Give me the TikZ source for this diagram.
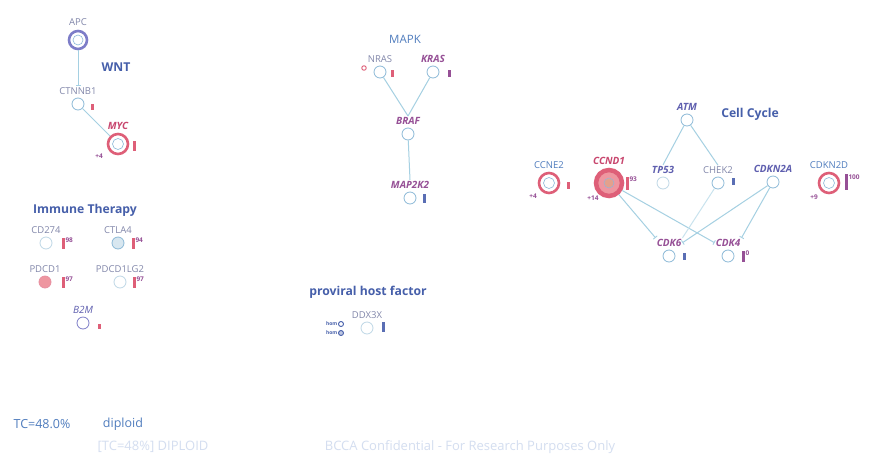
\documentclass[tikz,border=0pt]{standalone}
\usepackage{fontspec}
\setmainfont{Open Sans}
\usetikzlibrary{positioning,arrows.meta}

\definecolor{titleblue}{RGB}{70,95,170}
\definecolor{linec}{RGB}{165,208,226}
\definecolor{ringblue}{RGB}{140,185,215}
\definecolor{ringlt}{RGB}{190,215,230}
\definecolor{redr}{RGB}{222,95,120}
\definecolor{pinkf}{RGB}{238,150,160}
\definecolor{salmon}{RGB}{228,160,140}
\definecolor{purptxt}{RGB}{150,80,150}
\definecolor{redtxt}{RGB}{200,70,110}
\definecolor{greytxt}{RGB}{130,135,170}
\definecolor{bluetxt}{RGB}{80,125,190}
\definecolor{cyctxt}{RGB}{95,95,175}
\definecolor{apcc}{RGB}{125,125,200}
\definecolor{bluebar}{RGB}{90,110,180}
\definecolor{purpbar}{RGB}{150,80,150}
\definecolor{faint}{RGB}{212,222,240}

\tikzset{
  gene/.style={circle, draw=ringblue, line width=0.8pt, minimum size=12pt, inner sep=0pt},
  lbl/.style={font=\fontsize{9.5}{10}\selectfont, text=greytxt, inner sep=1pt},
  ital/.style={font=\fontsize{10}{11}\selectfont\bfseries\itshape, text=purptxt, inner sep=1pt},
  title/.style={font=\fontsize{12.2}{14}\selectfont\bfseries, text=titleblue},
  cnbar/.style={rectangle, fill=#1, inner sep=0pt, minimum width=3pt, minimum height=7pt},
  num/.style={font=\fontsize{6.5}{7}\selectfont\bfseries, text=purptxt, inner sep=0.6pt, anchor=north west},
  cn/.style={font=\fontsize{6.5}{7}\selectfont\bfseries, text=purptxt},
  link/.style={draw=linec, line width=1pt},
  inhib/.style={link, -{Bar[width=5pt, line width=0.9pt]}},
  homc/.style={circle, draw=titleblue, line width=0.9pt, minimum size=5pt, inner sep=0pt},
  homt/.style={font=\fontsize{5}{5}\selectfont\bfseries, text=titleblue, inner sep=0.5pt},
  bottom/.style={font=\fontsize{12.5}{14}\selectfont, text=bluetxt},
  faintt/.style={font=\fontsize{13}{15}\selectfont, text=faint},
}

\begin{document}
\begin{tikzpicture}[x=1pt, y=-1pt]
\fill[white] (0,0) rectangle (874,461);
\useasboundingbox (0,0) rectangle (874,461);

% WNT
\node[title] (wnt) at (116,67) {WNT};
\node[gene, draw=apcc, line width=2.6pt, minimum size=18pt] (apc) at (78,40) {};
\draw[ringblue, line width=0.6pt] (apc.center) circle (5pt);
\node[lbl, above=3pt of apc] (apcl) {APC};
\node[gene] (ctnnb1) at (78,104) {};
\node[lbl, above=2pt of ctnnb1] (ctnnb1l) {CTNNB1};
\node[cnbar=redr, minimum height=6pt] (ctnnb1b) at (92,107) {};
\node[gene, draw=redr, line width=2.6pt, minimum size=20pt] (myc) at (118,144) {};
\draw[ringblue, line width=0.6pt] (myc.center) circle (5.5pt);
\node[ital, text=redtxt, above=2pt of myc] (mycl) {MYC};
\node[cnbar=redr, minimum height=10pt] (mycb) at (134,146) {};
\node[cn] (mycn) at (99,156) {+4};
\draw[inhib] (apc) -- (ctnnb1l);
\draw[link] (ctnnb1) -- (myc);

% Immune Therapy
\node[title] (imm) at (85,210) {Immune Therapy};
\node[gene, draw=ringlt] (cd274) at (46,243) {};
\node[lbl, above=2pt of cd274] (cd274l) {CD274};
\node[cnbar=redr, minimum height=11pt, label={[num]north east:98}] (cd274b) at (63,243) {};
\node[gene, fill=ringlt!60] (ctla4) at (118,243) {};
\node[lbl, above=2pt of ctla4] (ctla4l) {CTLA4};
\node[cnbar=redr, minimum height=11pt, label={[num]north east:94}] (ctla4b) at (133,243) {};
\node[gene, draw=redr!70, fill=pinkf] (pdcd1) at (45,282) {};
\node[lbl, above=2pt of pdcd1] (pdcd1l) {PDCD1};
\node[cnbar=redr, minimum height=11pt, label={[num]north east:97}] (pdcd1b) at (63,282) {};
\node[gene, draw=ringlt] (pdcd1lg2) at (120,282) {};
\node[lbl, above=2pt of pdcd1lg2] (pdcd1lg2l) {PDCD1LG2};
\node[cnbar=redr, minimum height=11pt, label={[num]north east:97}] (pdcd1lg2b) at (134,282) {};
\node[gene, draw=apcc] (b2m) at (83,323) {};
\node[ital, font=\fontsize{10}{11}\selectfont\itshape, text=cyctxt, above=2pt of b2m] (b2ml) {B2M};
\node[cnbar=redr, minimum height=5pt] (b2mb) at (99,326) {};

% MAPK
\node[title, font=\fontsize{11.5}{13}\selectfont, text=bluetxt] (mapk) at (405,39) {MAPK};
\node[gene] (nras) at (380,72) {};
\node[lbl, above=2pt of nras] (nrasl) {NRAS};
\node[circle, draw=redr, line width=0.9pt, minimum size=4.5pt, inner sep=0pt] (nraso) at (364,68) {};
\node[cnbar=redr] (nrasb) at (392,73) {};
\node[gene] (kras) at (433,72) {};
\node[ital, above=2pt of kras] (krasl) {KRAS};
\node[cnbar=purpbar] (krasb) at (449,73) {};
\node[gene] (braf) at (408,134) {};
\node[ital, above=2pt of braf] (brafl) {BRAF};
\node[gene] (map2k2) at (410,198) {};
\node[ital, above=2pt of map2k2] (map2k2l) {MAP2K2};
\node[cnbar=bluebar, minimum height=9pt] (map2k2b) at (424,198) {};
\draw[link] (nras) -- (brafl.north);
\draw[link] (kras) -- (brafl.north);
\draw[link] (braf) -- (map2k2l.north);

% proviral host factor
\node[title] (prov) at (368,292) {proviral host factor};
\node[gene, draw=ringlt] (ddx3x) at (367,328) {};
\node[lbl, above=2pt of ddx3x] (ddx3xl) {DDX3X};
\node[homc] (hom1c) at (341,324) {};
\node[homt, left=0pt of hom1c] (hom1t) {hom};
\node[homc, fill=titleblue!35] (hom2c) at (341,333) {};
\node[homt, left=0pt of hom2c] (hom2t) {hom};
\node[cnbar=bluebar, minimum height=10pt] (ddx3xb) at (383,327) {};

% Cell Cycle
\node[title] (cyc) at (750,114) {Cell Cycle};
\node[gene] (atm) at (687,120) {};
\node[ital, text=cyctxt, above=2pt of atm] (atml) {ATM};
\node[gene, draw=ringlt] (tp53) at (663,183) {};
\node[ital, text=cyctxt, above=2pt of tp53] (tp53l) {TP53};
\node[gene] (chek2) at (718,183) {};
\node[lbl, above=2pt of chek2] (chek2l) {CHEK2};
\node[cnbar=bluebar] (chek2b) at (733,181) {};
\node[gene] (cdkn2a) at (773,182) {};
\node[ital, text=cyctxt, above=2pt of cdkn2a] (cdkn2al) {CDKN2A};
\node[gene, draw=redr, line width=2.6pt, minimum size=20pt] (cdkn2d) at (829,183) {};
\draw[ringblue, line width=0.6pt] (cdkn2d.center) circle (5.5pt);
\node[lbl, text=bluetxt, above=2pt of cdkn2d] (cdkn2dl) {CDKN2D};
\node[cnbar=purpbar, minimum height=16pt, label={[num]north east:100}] (cdkn2db) at (846,182) {};
\node[cn] (cdkn2dn) at (814,197) {+9};
\node[gene, draw=redr, line width=2.6pt, minimum size=20pt] (ccne2) at (549,183) {};
\draw[ringblue, line width=0.6pt] (ccne2.center) circle (5.5pt);
\node[lbl, text=bluetxt, above=2pt of ccne2] (ccne2l) {CCNE2};
\node[cnbar=redr] (ccne2b) at (568,185) {};
\node[cn] (ccne2n) at (533,196) {+4};
\node[gene, draw=redr, fill=pinkf, line width=4.5pt, minimum size=26pt] (ccnd1) at (609,183) {};
\fill[salmon] (ccnd1.center) circle (4.5pt);
\draw[ringblue, line width=0.5pt] (ccnd1.center) circle (5pt);
\node[ital, text=redtxt, above=2pt of ccnd1] (ccnd1l) {CCND1};
\node[cnbar=redr, minimum height=13pt, label={[num]north east:93}] (ccnd1b) at (627,183) {};
\node[cn] (ccnd1n) at (593,198) {+14};
\node[gene] (cdk6) at (669,256) {};
\node[ital, above=2pt of cdk6] (cdk6l) {CDK6};
\node[cnbar=bluebar] (cdk6b) at (684,256) {};
\node[gene] (cdk4) at (728,256) {};
\node[ital, above=2pt of cdk4] (cdk4l) {CDK4};
\node[cnbar=purpbar, minimum height=11pt, label={[num]north east:0}] (cdk4b) at (743,256) {};
\draw[link] (atm) -- (tp53l.north);
\draw[link] (atm) -- (chek2l.north);
\draw[inhib] (ccnd1) -- (cdk6l.north west);
\draw[inhib] (ccnd1) -- (cdk4l.west);
\draw[inhib] (cdkn2a) -- (cdk6l.east);
\draw[inhib] (cdkn2a) -- (cdk4l.north east);
\draw[link, draw=linec!60] (chek2) -- (cdk6l.north east);

% Tumour content
\node[bottom] (tc) at (42,424) {TC=48.0\%};
\node[bottom] (ploidy) at (123,424) {diploid};
\node[faintt] (tcfaint) at (153,447) {[TC=48\%] DIPLOID};
\node[faintt] (conf) at (470,447) {BCCA Confidential - For Research Purposes Only};
\end{tikzpicture}
\end{document}
